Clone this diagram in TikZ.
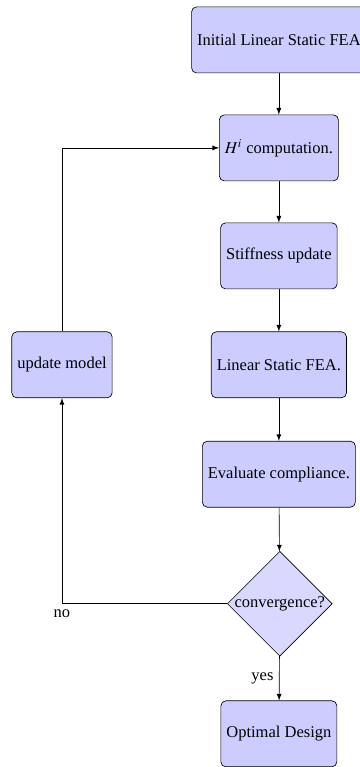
\documentclass[tikz,border=0pt]{standalone}
\usepackage{mathptmx}
\usepackage{fontspec}
\setmainfont{Liberation Serif}
\usepackage{tikz}
\usetikzlibrary{shapes.geometric}

\begin{document}
\begin{tikzpicture}[
  block/.style={draw, rounded corners=3pt, fill=blue!20, minimum height=4em},
  decision/.style={draw, diamond, aspect=1, inner sep=0pt, fill=blue!15},
  line/.style={draw, -latex}]
\useasboundingbox (0,0) rectangle (7.668,-16.337);

\node [block] (init) at (5.94,-0.85) {Initial Linear Static FEA};
\node [block] (hcomp) at (5.94,-3.15) {$H^i$ computation.};
\node [block] (stiff) at (5.94,-5.45) {Stiffness update};
\node [block] (lin) at (5.94,-7.77) {Linear Static FEA.};
\node [block] (eval) at (5.94,-10.10) {Evaluate compliance.};
\node [decision] (conv) at (5.96,-12.86) {convergence?};
\node [block] (opt) at (5.94,-15.63) {Optimal Design};

\node [block] (upd) at (1.32,-7.77) {update model};

\path [line] (init) -- (hcomp);
\path [line] (hcomp) -- (stiff);
\path [line] (stiff) -- (lin);
\path [line] (lin) -- (eval);
\path [line] (eval) -- (conv);
\path [line] (conv) -- node [left] (yes) {yes} (opt);
\path [line] (conv) -| node [pos=0.5, below] (no) {no} (upd);
\path [line] (upd) |- (hcomp);

\end{tikzpicture}
\end{document}
